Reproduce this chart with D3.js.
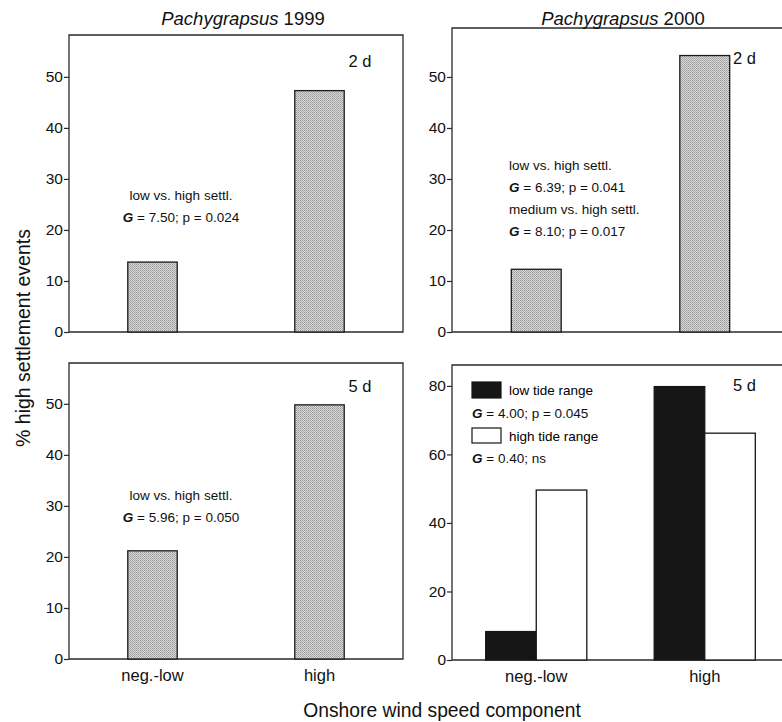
<!DOCTYPE html>
<html>
<head>
<meta charset="utf-8">
<script src="https://cdn.jsdelivr.net/npm/d3@7"></script>
<style>
  body { margin: 0; background: #fff; }
  svg { font-family: "Liberation Sans", Arial, sans-serif; }
</style>
</head>
<body>
<div id="chart"></div>
<script>
// Data
const categories = ["neg.-low", "high"];
const pct1999_2d = [13.7, 47.3];
const pct2000_2d = [12.3, 54.2];
const pct1999_5d = [21.2, 49.8];
const tideSeries = ["low tide range", "high tide range"];
const lowTide2000_5d = [8.3, 79.8];
const highTide2000_5d = [49.6, 66.2];
const ticks60 = [0, 10, 20, 30, 40, 50];
const ticks80 = [0, 20, 40, 60, 80];

const width = 782, height = 722;

const svg = d3.select("#chart")
    .append("svg")
    .attr("width", width)
    .attr("height", height);

// stipple pattern for grey bars
const pat = svg.append("defs").append("pattern")
    .attr("id", "stip")
    .attr("width", 2).attr("height", 2)
    .attr("patternUnits", "userSpaceOnUse");
pat.append("rect").attr("width", 2).attr("height", 2).attr("fill", "#d8d8d8");
pat.append("rect").attr("width", 1).attr("height", 1).attr("fill", "#9c9c9c");
pat.append("rect").attr("x", 1).attr("y", 1).attr("width", 1).attr("height", 1).attr("fill", "#ababab");

function panel(opts) {
    const x = d3.scaleBand()
        .domain(categories)
        .range([opts.x0, opts.x1])
        .paddingInner(opts.pIn)
        .paddingOuter(opts.pIn / 2);
    const y = d3.scaleLinear()
        .domain([0, opts.ymax])
        .range([opts.y0, opts.y1]);

    const g = svg.append("g");

    // frame
    g.append("path")
        .attr("d", `M${opts.x0},${opts.y0}V${opts.y1}H${opts.x1}V${opts.y0}Z`)
        .attr("fill", "none")
        .attr("stroke", "#2a2a2a")
        .attr("stroke-width", 1.3);

    const ax = g.append("g")
        .attr("transform", `translate(${opts.x0},0)`)
        .call(d3.axisLeft(y).tickValues(opts.ticks).tickSize(5).tickSizeOuter(0).tickPadding(1));
    ax.select(".domain").remove();
    ax.selectAll("line").attr("stroke", "#2a2a2a").attr("stroke-width", 1.2);
    ax.selectAll("text")
        .attr("fill", "#111")
        .style("font-size", "15.5px");

    return { g, x, y };
}

function note(g, x, y, lines, anchor) {
    lines.forEach((ln, i) => {
        const t = g.append("text")
            .attr("x", x)
            .attr("y", y + i * 22)
            .attr("text-anchor", anchor)
            .attr("fill", "#111")
            .style("font-size", "13.5px");
        if (ln.startsWith("G")) {
            t.append("tspan").style("font-weight", "bold").style("font-style", "italic").text("G");
            t.append("tspan").text(ln.slice(1));
        } else {
            t.text(ln);
        }
    });
}

function singleBars(p, values) {
    p.g.selectAll(".bar")
        .data(values)
        .join("rect")
        .attr("x", (d, i) => p.x(categories[i]))
        .attr("width", p.x.bandwidth())
        .attr("y", d => p.y(d))
        .attr("height", d => p.y(0) - p.y(d))
        .attr("fill", "url(#stip)")
        .attr("stroke", "#1a1a1a")
        .attr("stroke-width", 1.3);
}

function dayLabel(p, x, y, txt, anchor) {
    p.g.append("text").attr("x", x).attr("y", y).attr("text-anchor", anchor)
        .attr("fill", "#111")
        .style("font-size", "16.5px").text(txt);
}

// Top-left
const p1 = panel({ x0: 69, x1: 403, y0: 332, y1: 35, ymax: 58.2, ticks: ticks60, pIn: 0.704 });
singleBars(p1, pct1999_2d);
note(p1.g, 181, 200, ["low vs. high settl.", "G = 7.50; p = 0.024"], "middle");
dayLabel(p1, 360, 67, "2 d", "middle");

// Top-right
const p2 = panel({ x0: 452, x1: 789, y0: 332, y1: 28, ymax: 59.6, ticks: ticks60, pIn: 0.704 });
singleBars(p2, pct2000_2d);
note(p2.g, 509, 170, ["low vs. high settl.", "G = 6.39; p =  0.041", "medium vs. high settl.", "G = 8.10; p = 0.017"], "start");
dayLabel(p2, 733, 64, "2 d", "start");

// Bottom-left
const p3 = panel({ x0: 69, x1: 403, y0: 659, y1: 363, ymax: 58, ticks: ticks60, pIn: 0.704 });
singleBars(p3, pct1999_5d);
note(p3.g, 181, 500, ["low vs. high settl.", "G = 5.96; p = 0.050"], "middle");
dayLabel(p3, 360, 392, "5 d", "middle");

// Bottom-right (grouped)
const p4 = panel({ x0: 452, x1: 789, y0: 660, y1: 365, ymax: 86.1, ticks: ticks80, pIn: 0.4 });
const xs = d3.scaleBand().domain(tideSeries).range([0, p4.x.bandwidth()]);
const tideColor = d3.scaleOrdinal().domain(tideSeries).range(["#161616", "#ffffff"]);
const tideRows = categories.map((c, i) => ({ cat: c, vals: [lowTide2000_5d[i], highTide2000_5d[i]] }));
p4.g.selectAll(".grp")
    .data(tideRows)
    .join("g")
    .attr("transform", d => `translate(${p4.x(d.cat)},0)`)
    .selectAll("rect")
    .data(d => d.vals.map((v, j) => ({ s: tideSeries[j], v })))
    .join("rect")
    .attr("x", d => xs(d.s))
    .attr("width", xs.bandwidth())
    .attr("y", d => p4.y(d.v))
    .attr("height", d => p4.y(0) - p4.y(d.v))
    .attr("fill", d => tideColor(d.s))
    .attr("stroke", "#161616")
    .attr("stroke-width", 1.3);
dayLabel(p4, 733, 391, "5 d", "start");

// legend
const leg = p4.g.append("g").attr("transform", "translate(472,382)");
leg.append("rect").attr("width", 29).attr("height", 16).attr("fill", tideColor(tideSeries[0]))
    .attr("stroke", "#161616").attr("stroke-width", 1.2);
leg.append("text").attr("x", 37).attr("y", 13).style("font-size", "13.5px").text(tideSeries[0]);
note(leg, 0, 36, ["G = 4.00; p = 0.045"], "start");
leg.append("rect").attr("y", 46).attr("width", 29).attr("height", 15).attr("fill", tideColor(tideSeries[1]))
    .attr("stroke", "#161616").attr("stroke-width", 1.2);
leg.append("text").attr("x", 37).attr("y", 59).style("font-size", "13.5px").text(tideSeries[1]);
note(leg, 0, 81, ["G = 0.40; ns"], "start");

// x category labels under bottom panels
[p3, p4].forEach(p => {
    p.g.selectAll(".xl")
        .data(categories)
        .join("text")
        .attr("x", d => p.x(d) + p.x.bandwidth() / 2)
        .attr("y", p.y(0) + 22)
        .attr("text-anchor", "middle")
        .style("font-size", "16.5px")
        .attr("fill", "#111")
        .text(d => d);
});

// titles
[["1999", 243], ["2000", 623]].forEach(([yr, cx]) => {
    svg.append("text").attr("x", cx).attr("y", 25).attr("text-anchor", "middle")
        .style("font-size", "18.5px")
        .attr("fill", "#111")
        .call(t => {
            t.append("tspan").style("font-style", "italic").text("Pachygrapsus");
            t.append("tspan").text(" " + yr);
        });
});

// axis titles
svg.append("text")
    .attr("transform", "translate(30,338) rotate(-90)")
    .attr("text-anchor", "middle")
    .attr("fill", "#111")
    .style("font-size", "19.5px")
    .text("% high settlement events");
svg.append("text")
    .attr("x", 442).attr("y", 717)
    .attr("text-anchor", "middle")
    .attr("fill", "#111")
    .style("font-size", "19.3px")
    .text("Onshore wind speed component");
</script>
</body>
</html>
